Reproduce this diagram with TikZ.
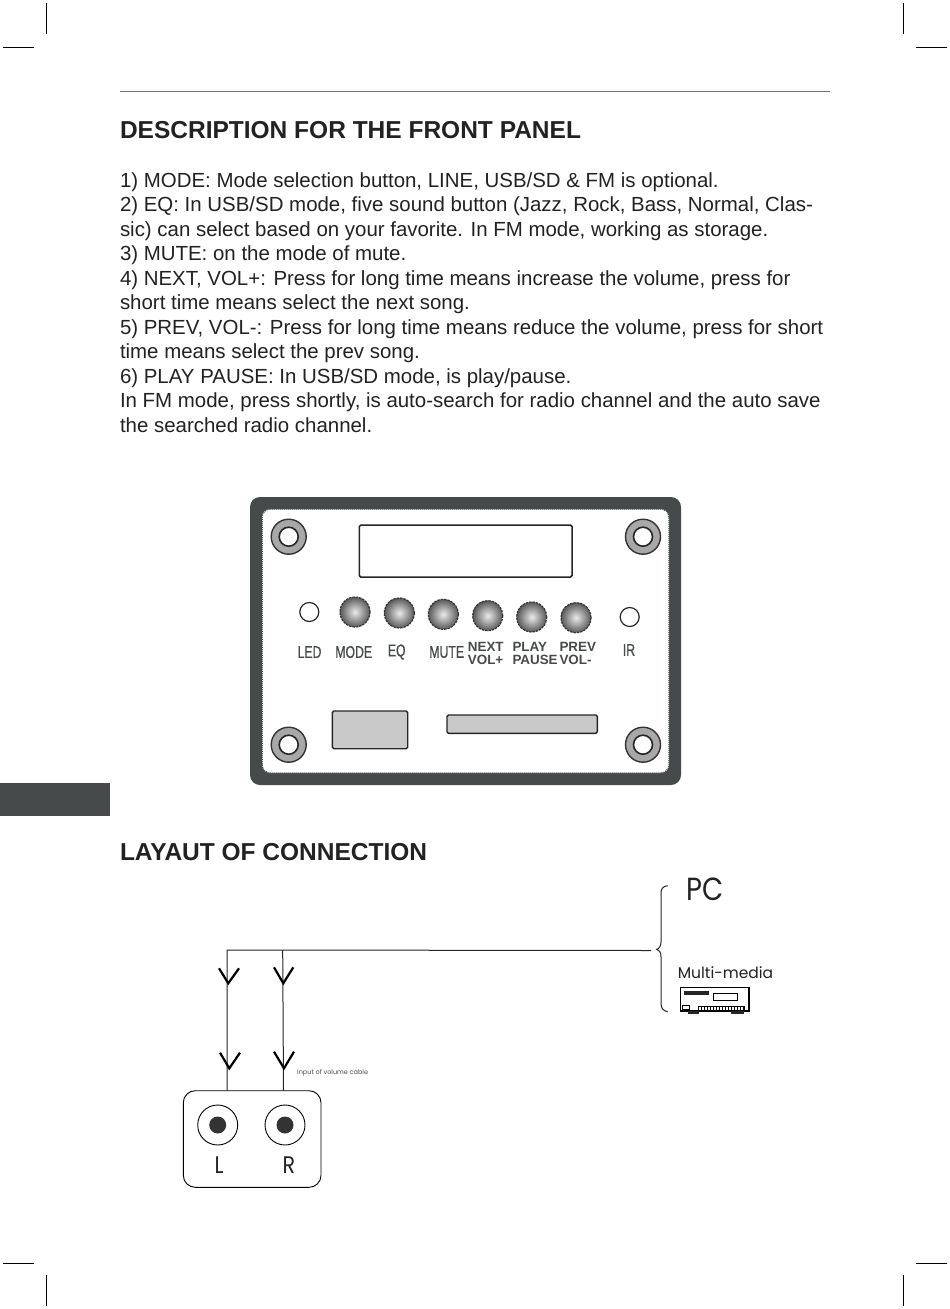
\documentclass[tikz,border=0pt]{standalone}
\usepackage{fontspec}
\setmainfont{Liberation Sans}
\newfontfamily\condfont[FakeStretch=0.72,FakeBold=0.6]{Liberation Sans}
\newfontfamily\geofont{Poppins}
\newfontfamily\geonarrow[FakeStretch=0.86]{Poppins}
\definecolor{ink}{HTML}{222222}
\definecolor{panel}{HTML}{474A4A}
\definecolor{ringgray}{HTML}{A8A8A8}
\definecolor{slotgray}{HTML}{C9C9C9}
\tikzset{
  x=1pt,y=-1pt,
  body/.style={anchor=base west,inner sep=0pt,outer sep=0pt,text=ink,font=\fontsize{20.44}{24}\selectfont},
  head/.style={anchor=base west,inner sep=0pt,outer sep=0pt,text=ink,font=\bfseries\fontsize{24.5}{28}\selectfont},
  crop/.style={draw=black,line width=0.8pt},
  thinlab/.style={inner sep=0pt,text=panel,font=\condfont\fontsize{17}{18}\selectfont},
  boldlab/.style={anchor=base west,inner sep=0pt,text=panel,font=\bfseries\fontsize{13.4}{14}\selectfont},
  btn/.style={circle,minimum size=30pt,inner sep=0pt,draw=black!80,dashed,dash pattern=on 2.4pt off 1pt,line width=1.2pt,inner color=white!92!black,outer color=black!65},
  hole/.style={circle,minimum size=19pt,inner sep=0pt,draw=black!85,line width=1.6pt,fill=white},
  ring/.style={circle,minimum size=35pt,inner sep=0pt,draw=black!80,line width=1.4pt,fill=ringgray},
  lamp/.style={circle,minimum size=19pt,inner sep=0pt,draw=black!85,line width=1.2pt,fill=white},
  wire/.style={draw=black!85,line width=1pt},
  vee/.style={draw=black,line width=2.2pt,line join=miter},
  jack/.style={circle,minimum size=40pt,inner sep=0pt,draw=black,line width=0.9pt,fill=white},
  pin/.style={circle,minimum size=17pt,inner sep=0pt,fill=black!80},
  geo/.style={inner sep=0pt,text=ink,font=\geonarrow\fontsize{24}{26}\selectfont}
}
\begin{document}
\begin{tikzpicture}
\useasboundingbox (0,0) rectangle (950,1309);
\fill[white] (0,0) rectangle (950,1309);
% crop marks
\coordinate (c1) at (46,3); \coordinate (c1b) at (46,34);
\coordinate (c2) at (3,47); \coordinate (c2b) at (34,47);
\coordinate (c3) at (903,3); \coordinate (c3b) at (903,34);
\coordinate (c4) at (916,47); \coordinate (c4b) at (947,47);
\coordinate (c5) at (3,1263); \coordinate (c5b) at (34,1263);
\coordinate (c6) at (46,1275); \coordinate (c6b) at (46,1306);
\coordinate (c7) at (916,1263); \coordinate (c7b) at (947,1263);
\coordinate (c8) at (903,1275); \coordinate (c8b) at (903,1306);
\foreach \i in {1,...,8} \draw[crop] (c\i) -- (c\i b);
% rule and tab
\coordinate (ruleA) at (120,91.5); \coordinate (ruleB) at (830,91.5);
\draw[draw=black!55,line width=0.9pt] (ruleA) -- (ruleB);
\fill[panel] (0,783) rectangle (110,816);
% texts
\node[head] (h1) at (120,138) {DESCRIPTION FOR THE FRONT PANEL};
\node[body] (t1) at (120,187) {1) MODE: Mode selection button, LINE, USB/SD \& FM is optional.};
\node[body] (t2) at (120,211.5) {2) EQ: In USB/SD mode, five sound button (Jazz, Rock, Bass, Normal, Clas-};
\node[body] (t3) at (120,236) {sic) can select based on your favorite. In FM mode, working as storage.};
\node[body] (t4) at (120,260.5) {3) MUTE: on the mode of mute.};
\node[body] (t5) at (120,285) {4) NEXT, VOL+: Press for long time means increase the volume, press for};
\node[body] (t6) at (120,309.5) {short time means select the next song.};
\node[body] (t7) at (120,334) {5) PREV, VOL-: Press for long time means reduce the volume, press for short};
\node[body] (t8) at (120,358.5) {time means select the prev song.};
\node[body] (t9) at (120,383) {6) PLAY PAUSE: In USB/SD mode, is play/pause.};
\node[body] (t10) at (120,407.5) {In FM mode, press shortly, is auto-search for radio channel and the auto save};
\node[body] (t11) at (120,432) {the searched radio channel.};
\node[head] (h2) at (120,860) {LAYAUT OF CONNECTION};
% panel
\fill[panel,rounded corners=10pt] (250,497) rectangle (681,785);
\fill[white,rounded corners=8pt] (262,509) rectangle (669,773);
\draw[draw=panel,line width=1.5pt,dash pattern=on 1pt off 1pt,rounded corners=8pt] (262,509) rectangle (669,773);
\foreach \n/\x/\y in {a/288.7/536.7,b/643/536.7,c/288.7/744.7,d/643/744.7}{
  \node[ring] (ring\n) at (\x,\y) {};
  \node[hole] (hole\n) at (\x,\y) {};
}
\draw[draw=black!85,line width=1.5pt,rounded corners=1.5pt] (359.3,525) rectangle (572,577);
\foreach \n/\x/\y in {a/355/612,b/399.3/613,c/443.3/614.3,d/487.7/615.7,e/531.7/617,f/576/617.7}
  \node[btn] (btn\n) at (\x,\y) {};
\node[lamp] (led) at (309.3,612) {};
\node[lamp] (ir) at (629.7,617) {};
\node[thinlab] (lLED) at (309.5,652) {LED};
\node[thinlab] (lMODE) at (353.7,652) {MODE};
\node[thinlab] (lEQ) at (396.7,652) {EQ};
\node[thinlab] (lMUTE) at (446.7,652) {MUTE};
\node[thinlab] (lIR) at (629,650) {IR};
\node[boldlab] (n1) at (467.7,651) {NEXT};
\node[boldlab] (n2) at (467.7,664.8) {VOL+};
\node[boldlab] (p1) at (512.3,651) {PLAY};
\node[boldlab] (p2) at (512.3,664.8) {PAUSE};
\node[boldlab] (v1) at (559.3,651) {PREV};
\node[boldlab] (v2) at (559.3,664.8) {VOL-};
\draw[draw=black!85,fill=slotgray,line width=1.4pt,rounded corners=1.5pt] (332.3,711) rectangle (407.7,748.7);
\draw[draw=black!85,fill=slotgray,line width=1.4pt,rounded corners=1.5pt] (447,715) rectangle (597.3,733.3);
% connection
\coordinate (jL) at (227,950);
\coordinate (jR) at (282.7,950);
\coordinate (jE) at (651,950.5);
\coordinate (bL) at (227,1090.7);
\coordinate (bR) at (283.5,1090.7);
\draw[wire] (bL) -- (jL) -- (jE);
\draw[wire] (bR) -- (jR);
\foreach \ax/\ay/\lx/\rx/\ty in {228.3/983.3/219/239/968.3,283.3/983.3/274/293.3/967.3,229.3/1068.3/220/240/1052.7,284/1068.3/274/294/1051.7}
  \draw[vee] (\lx,\ty) -- (\ax,\ay) -- (\rx,\ty);
\node[inner sep=0pt,anchor=west,text=black!70,font=\geofont\fontsize{6.5}{7}\selectfont] (cap) at (297,1073) {Input of volume cable};
\draw[draw=black,line width=0.9pt,rounded corners=12pt] (183.3,1090.7) rectangle (321,1187.3);
\node[jack] (jl) at (217.7,1125) {};
\node[pin] (pl) at (217.7,1125) {};
\node[jack] (jr) at (285,1125) {};
\node[pin] (pr) at (285,1125) {};
\node[geo] (L) at (219,1165) {L};
\node[geo] (R) at (288.8,1165) {R};
% brace
\draw[draw=black!85,line width=1pt] (667.7,885.7) .. controls (663,886) and (661,889) .. (661,893) -- (661,941.7) .. controls (661,946) and (659,949) .. (656.7,949.3) .. controls (659,950) and (661,952) .. (661,956.7) -- (661,1003.3) .. controls (661,1008) and (663,1011) .. (667.7,1011.7);
\node[geo,font=\geonarrow\fontsize{32}{36}\selectfont] (pc) at (705,889.5) {PC};
\node[geo,font=\geofont\fontsize{15.5}{18}\selectfont] (mm) at (725.5,973) {Multi-media};
% device
\draw[draw=black,line width=1.2pt] (680.7,987.3) rectangle (749,1011);
\fill[black!85] (683.5,991) rectangle (709,994.5);
\draw[draw=black,line width=0.9pt] (713,993.3) rectangle (737.7,1000.7);
\draw[draw=black,line width=0.9pt] (682.5,1005.3) rectangle (689.3,1009);
\fill[black!85] (687.5,1011) rectangle (698.5,1013.5);
\fill[black!85] (731,1011) rectangle (743.5,1013.5);
\draw[draw=black,line width=0.8pt] (698.5,1010) -- (698.5,1006) -- (744,1006) -- (744,1010);
\foreach \k in {0,...,15} \draw[draw=black,line width=0.8pt] (698.5+3*\k,1006) -- (698.5+3*\k,1010);
\end{tikzpicture}
\end{document}
